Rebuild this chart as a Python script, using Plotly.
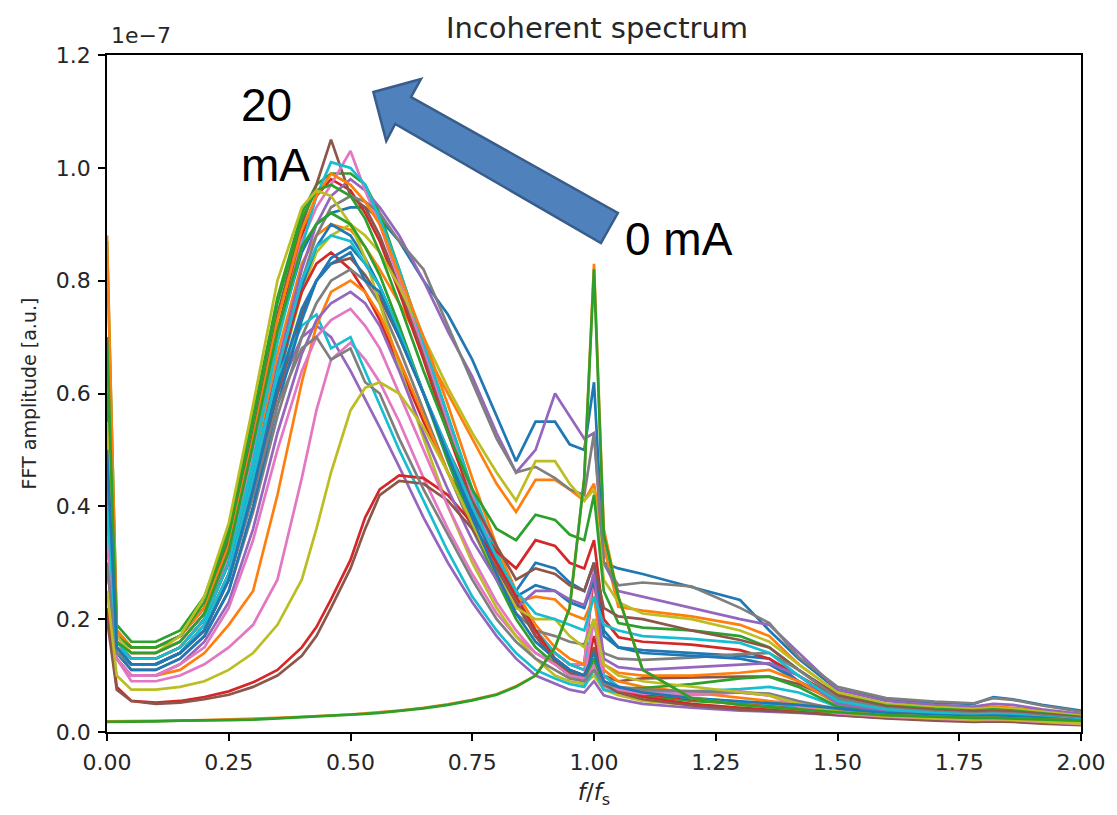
import plotly.graph_objects as go

# frequency grid f/fs
f_over_fs = [0.0, 0.02, 0.05, 0.10, 0.15, 0.20, 0.25, 0.30, 0.35, 0.40, 0.43, 0.46, 0.50, 0.53, 0.56,
             0.60, 0.65, 0.70, 0.75, 0.80, 0.84, 0.88, 0.92, 0.95, 0.98, 1.00, 1.02, 1.05, 1.10, 1.20,
             1.30, 1.36, 1.42, 1.50, 1.60, 1.70, 1.78, 1.82, 1.86, 1.92, 2.00]

# FFT amplitudes in units of 1e-7
c00 = [0.45, 0.17, 0.15, 0.15, 0.17, 0.22, 0.32, 0.50, 0.70, 0.85, 0.90, 0.92, 0.93, 0.93, 0.91, 0.87, 0.80, 0.74, 0.66, 0.56, 0.48, 0.55, 0.55, 0.51, 0.50, 0.62, 0.30, 0.29, 0.28, 0.257, 0.234, 0.18, 0.13, 0.075, 0.058, 0.052, 0.05, 0.062, 0.058, 0.048, 0.038]
c01 = [0.60, 0.16, 0.13, 0.13, 0.15, 0.20, 0.30, 0.47, 0.67, 0.83, 0.88, 0.90, 0.89, 0.86, 0.82, 0.76, 0.68, 0.60, 0.52, 0.44, 0.39, 0.447, 0.447, 0.43, 0.41, 0.44, 0.33, 0.222, 0.215, 0.205, 0.19, 0.17, 0.12, 0.07, 0.05, 0.045, 0.042, 0.045, 0.043, 0.037, 0.03]
c02 = [0.87, 0.19, 0.16, 0.16, 0.18, 0.24, 0.36, 0.56, 0.77, 0.92, 0.97, 0.99, 0.99, 0.97, 0.92, 0.82, 0.69, 0.56, 0.43, 0.31, 0.23, 0.17, 0.13, 0.11, 0.10, 0.12, 0.09, 0.075, 0.065, 0.055, 0.05, 0.047, 0.044, 0.04, 0.033, 0.03, 0.028, 0.03, 0.029, 0.026, 0.022]
c03 = [0.50, 0.17, 0.14, 0.14, 0.16, 0.21, 0.32, 0.50, 0.71, 0.88, 0.95, 0.98, 0.96, 0.92, 0.87, 0.78, 0.66, 0.53, 0.41, 0.30, 0.23, 0.17, 0.14, 0.12, 0.12, 0.28, 0.10, 0.08, 0.068, 0.058, 0.052, 0.048, 0.045, 0.04, 0.032, 0.028, 0.026, 0.027, 0.026, 0.023, 0.019]
c04 = [0.40, 0.15, 0.12, 0.12, 0.14, 0.19, 0.28, 0.45, 0.65, 0.82, 0.90, 0.95, 0.98, 0.96, 0.93, 0.88, 0.80, 0.71, 0.63, 0.53, 0.46, 0.50, 0.60, 0.56, 0.52, 0.53, 0.30, 0.25, 0.24, 0.22, 0.20, 0.19, 0.14, 0.075, 0.055, 0.048, 0.045, 0.05, 0.048, 0.04, 0.032]
c05 = [0.70, 0.18, 0.15, 0.15, 0.17, 0.22, 0.34, 0.53, 0.74, 0.90, 0.97, 1.05, 0.95, 0.93, 0.88, 0.79, 0.67, 0.54, 0.42, 0.31, 0.24, 0.18, 0.14, 0.12, 0.11, 0.14, 0.10, 0.09, 0.095, 0.097, 0.098, 0.098, 0.085, 0.055, 0.04, 0.034, 0.031, 0.032, 0.031, 0.027, 0.022]
c06 = [0.55, 0.17, 0.14, 0.14, 0.16, 0.21, 0.31, 0.49, 0.70, 0.87, 0.93, 0.97, 1.03, 0.96, 0.90, 0.80, 0.68, 0.55, 0.42, 0.31, 0.23, 0.18, 0.14, 0.12, 0.12, 0.30, 0.10, 0.08, 0.07, 0.065, 0.07, 0.065, 0.05, 0.038, 0.03, 0.027, 0.025, 0.026, 0.025, 0.022, 0.018]
c07 = [0.35, 0.15, 0.12, 0.12, 0.14, 0.19, 0.28, 0.45, 0.64, 0.80, 0.88, 0.93, 0.95, 0.94, 0.92, 0.87, 0.82, 0.72, 0.62, 0.52, 0.46, 0.47, 0.45, 0.43, 0.42, 0.53, 0.30, 0.26, 0.265, 0.258, 0.22, 0.193, 0.133, 0.08, 0.06, 0.054, 0.051, 0.06, 0.057, 0.047, 0.036]
c08 = [0.30, 0.14, 0.12, 0.12, 0.14, 0.18, 0.27, 0.43, 0.62, 0.78, 0.85, 0.88, 0.90, 0.88, 0.85, 0.79, 0.70, 0.61, 0.53, 0.46, 0.41, 0.48, 0.48, 0.44, 0.41, 0.43, 0.27, 0.23, 0.21, 0.20, 0.18, 0.16, 0.12, 0.07, 0.05, 0.044, 0.041, 0.043, 0.041, 0.036, 0.029]
c09 = [0.45, 0.16, 0.13, 0.13, 0.15, 0.20, 0.30, 0.48, 0.69, 0.86, 0.95, 1.01, 1.00, 0.97, 0.91, 0.82, 0.69, 0.56, 0.43, 0.32, 0.24, 0.18, 0.14, 0.12, 0.11, 0.20, 0.10, 0.08, 0.07, 0.06, 0.054, 0.05, 0.046, 0.04, 0.032, 0.028, 0.026, 0.027, 0.026, 0.023, 0.019]
c10 = [0.30, 0.15, 0.12, 0.12, 0.14, 0.18, 0.27, 0.43, 0.62, 0.79, 0.86, 0.90, 0.88, 0.84, 0.79, 0.71, 0.60, 0.49, 0.39, 0.30, 0.25, 0.30, 0.29, 0.265, 0.25, 0.30, 0.18, 0.15, 0.145, 0.14, 0.135, 0.13, 0.09, 0.055, 0.042, 0.036, 0.033, 0.034, 0.033, 0.029, 0.024]
c11 = [0.88, 0.18, 0.15, 0.15, 0.17, 0.22, 0.33, 0.52, 0.73, 0.89, 0.95, 0.99, 0.97, 0.94, 0.90, 0.81, 0.70, 0.58, 0.45, 0.33, 0.25, 0.19, 0.15, 0.13, 0.12, 0.15, 0.11, 0.09, 0.08, 0.07, 0.06, 0.055, 0.05, 0.043, 0.035, 0.031, 0.029, 0.03, 0.029, 0.025, 0.02]
c12 = [0.60, 0.17, 0.15, 0.15, 0.17, 0.23, 0.35, 0.55, 0.76, 0.91, 0.96, 0.97, 0.95, 0.91, 0.85, 0.76, 0.64, 0.53, 0.43, 0.36, 0.34, 0.385, 0.376, 0.35, 0.34, 0.42, 0.25, 0.193, 0.185, 0.18, 0.17, 0.15, 0.11, 0.065, 0.047, 0.041, 0.038, 0.04, 0.038, 0.033, 0.027]
c13 = [0.35, 0.15, 0.13, 0.13, 0.15, 0.20, 0.30, 0.46, 0.64, 0.78, 0.83, 0.85, 0.82, 0.78, 0.73, 0.65, 0.55, 0.46, 0.38, 0.32, 0.29, 0.34, 0.33, 0.30, 0.29, 0.34, 0.20, 0.168, 0.16, 0.155, 0.145, 0.13, 0.10, 0.06, 0.045, 0.038, 0.035, 0.036, 0.035, 0.031, 0.025]
c14 = [0.50, 0.15, 0.12, 0.12, 0.14, 0.19, 0.28, 0.45, 0.60, 0.70, 0.72, 0.70, 0.64, 0.59, 0.54, 0.47, 0.38, 0.30, 0.23, 0.17, 0.13, 0.10, 0.085, 0.075, 0.07, 0.09, 0.065, 0.058, 0.05, 0.043, 0.038, 0.036, 0.034, 0.03, 0.025, 0.022, 0.02, 0.021, 0.02, 0.017, 0.014]
c15 = [0.40, 0.14, 0.12, 0.12, 0.14, 0.18, 0.27, 0.42, 0.60, 0.74, 0.80, 0.83, 0.84, 0.81, 0.77, 0.70, 0.60, 0.50, 0.41, 0.33, 0.27, 0.29, 0.28, 0.26, 0.25, 0.30, 0.22, 0.205, 0.20, 0.18, 0.163, 0.15, 0.11, 0.065, 0.045, 0.039, 0.036, 0.037, 0.036, 0.032, 0.026]
c16 = [0.30, 0.13, 0.09, 0.09, 0.10, 0.12, 0.15, 0.19, 0.27, 0.45, 0.57, 0.66, 0.69, 0.66, 0.62, 0.55, 0.45, 0.36, 0.28, 0.21, 0.17, 0.14, 0.12, 0.10, 0.09, 0.12, 0.08, 0.075, 0.07, 0.068, 0.07, 0.065, 0.05, 0.035, 0.028, 0.024, 0.022, 0.023, 0.022, 0.019, 0.015]
c17 = [0.45, 0.14, 0.11, 0.11, 0.13, 0.17, 0.25, 0.39, 0.56, 0.70, 0.76, 0.80, 0.82, 0.80, 0.76, 0.68, 0.57, 0.46, 0.36, 0.27, 0.21, 0.18, 0.17, 0.16, 0.155, 0.20, 0.14, 0.13, 0.128, 0.132, 0.138, 0.14, 0.11, 0.06, 0.042, 0.036, 0.033, 0.034, 0.033, 0.029, 0.024]
c18 = [0.55, 0.17, 0.14, 0.14, 0.17, 0.24, 0.37, 0.58, 0.80, 0.93, 0.96, 0.95, 0.90, 0.84, 0.76, 0.65, 0.52, 0.40, 0.30, 0.22, 0.17, 0.13, 0.10, 0.09, 0.085, 0.10, 0.075, 0.065, 0.055, 0.048, 0.043, 0.04, 0.037, 0.033, 0.027, 0.024, 0.022, 0.023, 0.022, 0.019, 0.016]
c19 = [0.40, 0.15, 0.13, 0.13, 0.15, 0.20, 0.30, 0.47, 0.63, 0.72, 0.74, 0.68, 0.70, 0.64, 0.58, 0.50, 0.41, 0.32, 0.24, 0.18, 0.14, 0.11, 0.095, 0.085, 0.08, 0.11, 0.075, 0.07, 0.07, 0.072, 0.076, 0.08, 0.07, 0.045, 0.033, 0.028, 0.026, 0.026, 0.025, 0.022, 0.018]
c20 = [0.35, 0.14, 0.11, 0.11, 0.13, 0.17, 0.25, 0.40, 0.58, 0.73, 0.80, 0.84, 0.86, 0.83, 0.79, 0.71, 0.60, 0.49, 0.39, 0.30, 0.24, 0.26, 0.25, 0.23, 0.22, 0.27, 0.17, 0.15, 0.14, 0.135, 0.13, 0.12, 0.09, 0.05, 0.038, 0.033, 0.03, 0.031, 0.03, 0.027, 0.022]
c21 = [0.30, 0.13, 0.10, 0.10, 0.11, 0.14, 0.19, 0.25, 0.42, 0.62, 0.72, 0.78, 0.80, 0.78, 0.74, 0.66, 0.56, 0.46, 0.37, 0.29, 0.23, 0.24, 0.235, 0.21, 0.20, 0.24, 0.12, 0.105, 0.10, 0.10, 0.105, 0.11, 0.09, 0.05, 0.036, 0.031, 0.028, 0.029, 0.028, 0.025, 0.02]
c22 = [0.70, 0.16, 0.14, 0.14, 0.16, 0.21, 0.32, 0.51, 0.71, 0.86, 0.90, 0.92, 0.90, 0.86, 0.81, 0.72, 0.60, 0.48, 0.37, 0.27, 0.20, 0.15, 0.12, 0.10, 0.095, 0.13, 0.085, 0.078, 0.078, 0.085, 0.095, 0.098, 0.08, 0.045, 0.034, 0.03, 0.028, 0.029, 0.028, 0.025, 0.021]
c23 = [0.22, 0.08, 0.055, 0.052, 0.055, 0.062, 0.072, 0.088, 0.11, 0.15, 0.186, 0.235, 0.305, 0.38, 0.43, 0.455, 0.45, 0.42, 0.37, 0.30, 0.24, 0.18, 0.13, 0.11, 0.10, 0.17, 0.09, 0.075, 0.062, 0.05, 0.043, 0.04, 0.037, 0.032, 0.026, 0.022, 0.02, 0.021, 0.02, 0.017, 0.013]
c24 = [0.30, 0.13, 0.10, 0.10, 0.12, 0.16, 0.23, 0.36, 0.53, 0.67, 0.73, 0.76, 0.78, 0.76, 0.72, 0.64, 0.53, 0.43, 0.34, 0.27, 0.22, 0.25, 0.25, 0.235, 0.225, 0.28, 0.13, 0.115, 0.11, 0.115, 0.12, 0.122, 0.10, 0.05, 0.036, 0.031, 0.028, 0.029, 0.028, 0.025, 0.02]
c25 = [0.20, 0.075, 0.055, 0.05, 0.052, 0.058, 0.066, 0.08, 0.10, 0.135, 0.17, 0.22, 0.29, 0.36, 0.42, 0.445, 0.44, 0.41, 0.36, 0.29, 0.23, 0.17, 0.125, 0.105, 0.095, 0.15, 0.085, 0.07, 0.058, 0.047, 0.04, 0.038, 0.035, 0.03, 0.024, 0.02, 0.018, 0.019, 0.018, 0.015, 0.012]
c26 = [0.35, 0.13, 0.10, 0.10, 0.12, 0.15, 0.22, 0.34, 0.50, 0.64, 0.70, 0.73, 0.75, 0.72, 0.68, 0.60, 0.50, 0.40, 0.31, 0.23, 0.18, 0.14, 0.12, 0.10, 0.095, 0.20, 0.09, 0.075, 0.068, 0.068, 0.072, 0.065, 0.045, 0.033, 0.027, 0.023, 0.021, 0.022, 0.021, 0.018, 0.014]
c27 = [0.30, 0.14, 0.12, 0.12, 0.14, 0.18, 0.27, 0.42, 0.58, 0.68, 0.70, 0.66, 0.68, 0.62, 0.60, 0.52, 0.43, 0.35, 0.27, 0.20, 0.16, 0.13, 0.11, 0.095, 0.09, 0.11, 0.085, 0.08, 0.075, 0.072, 0.07, 0.068, 0.055, 0.04, 0.03, 0.026, 0.024, 0.025, 0.024, 0.021, 0.017]
c28 = [0.25, 0.10, 0.075, 0.075, 0.08, 0.09, 0.11, 0.14, 0.19, 0.27, 0.36, 0.46, 0.57, 0.61, 0.62, 0.60, 0.54, 0.46, 0.37, 0.28, 0.22, 0.20, 0.20, 0.17, 0.15, 0.20, 0.12, 0.10, 0.09, 0.08, 0.07, 0.065, 0.05, 0.036, 0.028, 0.024, 0.022, 0.023, 0.022, 0.019, 0.015]
c29 = [0.40, 0.15, 0.12, 0.12, 0.14, 0.19, 0.28, 0.45, 0.64, 0.80, 0.86, 0.88, 0.87, 0.83, 0.79, 0.71, 0.60, 0.50, 0.40, 0.31, 0.25, 0.21, 0.20, 0.19, 0.18, 0.24, 0.19, 0.18, 0.17, 0.165, 0.158, 0.14, 0.10, 0.055, 0.04, 0.034, 0.031, 0.032, 0.031, 0.027, 0.022]
c30 = [0.50, 0.15, 0.12, 0.12, 0.14, 0.18, 0.27, 0.43, 0.61, 0.75, 0.80, 0.83, 0.85, 0.80, 0.78, 0.70, 0.60, 0.49, 0.38, 0.28, 0.21, 0.16, 0.13, 0.11, 0.10, 0.14, 0.09, 0.08, 0.07, 0.06, 0.055, 0.052, 0.048, 0.042, 0.034, 0.03, 0.028, 0.029, 0.028, 0.025, 0.02]
c31 = [0.019, 0.019, 0.019, 0.02, 0.02, 0.021, 0.022, 0.023, 0.025, 0.027, 0.028, 0.029, 0.031, 0.033, 0.035, 0.038, 0.043, 0.049, 0.057, 0.067, 0.081, 0.10, 0.15, 0.22, 0.45, 0.83, 0.36, 0.24, 0.11, 0.06, 0.048, 0.044, 0.04, 0.035, 0.03, 0.027, 0.025, 0.025, 0.024, 0.022, 0.02]
c32_0mA = [0.018, 0.018, 0.018, 0.019, 0.02, 0.02, 0.021, 0.022, 0.024, 0.026, 0.027, 0.028, 0.03, 0.032, 0.034, 0.037, 0.042, 0.048, 0.056, 0.066, 0.08, 0.10, 0.15, 0.22, 0.45, 0.82, 0.35, 0.24, 0.11, 0.06, 0.048, 0.044, 0.04, 0.035, 0.03, 0.027, 0.025, 0.025, 0.024, 0.022, 0.02]

spectra = [c00, c01, c02, c03, c04, c05, c06, c07, c08, c09, c10, c11, c12, c13, c14, c15, c16,
           c17, c18, c19, c20, c21, c22, c23, c24, c25, c26, c27, c28, c29, c30, c31, c32_0mA]

x_ticks = [0.0, 0.25, 0.5, 0.75, 1.0, 1.25, 1.5, 1.75, 2.0]
x_tick_labels = ["0.00", "0.25", "0.50", "0.75", "1.00", "1.25", "1.50", "1.75", "2.00"]
y_ticks = [0.0, 0.2, 0.4, 0.6, 0.8, 1.0, 1.2]
y_tick_labels = ["0.0", "0.2", "0.4", "0.6", "0.8", "1.0", "1.2"]

tab10 = ['#1f77b4', '#ff7f0e', '#2ca02c', '#d62728', '#9467bd',
         '#8c564b', '#e377c2', '#7f7f7f', '#bcbd22', '#17becf']

fig = go.Figure()
for i, s in enumerate(spectra):
    fig.add_trace(go.Scatter(x=f_over_fs, y=s, mode="lines",
                             line=dict(color=tab10[i % 10], width=2.7),
                             showlegend=False, hoverinfo="skip"))

W, H = 1117, 815
L, R, T, B = 107, 30, 55, 83
pw, ph = W - L - R, H - T - B


def px(xp, yp):
    return (xp - L) / pw, (H - B - yp) / ph


# block arrow (pixel outline -> paper coords)
arrow_px = [(375, 92), (423, 79), (413, 97), (621, 213), (604, 243), (397, 124), (388, 141)]
pts = [px(a, b) for a, b in arrow_px]
path = "M " + " L ".join(f"{a:.4f},{b:.4f}" for a, b in pts) + " Z"

font_main = "DejaVu Sans, sans-serif"
fig.update_layout(
    width=W, height=H,
    margin=dict(l=L, r=R, t=T, b=B),
    paper_bgcolor="white", plot_bgcolor="white",
    font=dict(family=font_main, size=22, color="#262626"),
    title=dict(text="Incoherent spectrum", x=(L + pw / 2) / W, xanchor="center",
               y=1 - 28 / H, yanchor="middle", font=dict(size=29, color="#262626")),
    xaxis=dict(range=[0, 2], tickmode="array", tickvals=x_ticks, ticktext=x_tick_labels,
               showgrid=False, zeroline=False, showline=True, mirror=True,
               linecolor="black", linewidth=1.5, ticks="outside", ticklen=7,
               tickwidth=1.5, tickcolor="black", ticklabelstandoff=3,
               tickfont=dict(size=22),
               title=dict(text="<i>f</i>/<i>f</i><sub>s</sub>", standoff=10,
                          font=dict(size=23))),
    yaxis=dict(range=[0, 1.2], tickmode="array", tickvals=y_ticks, ticktext=y_tick_labels,
               showgrid=False, zeroline=False, showline=True, mirror=True,
               linecolor="black", linewidth=1.5, ticks="outside", ticklen=7,
               tickwidth=1.5, tickcolor="black", ticklabelstandoff=3,
               tickfont=dict(size=22),
               title=dict(text="FFT amplitude [a.u.]", standoff=14, font=dict(size=19))),
    shapes=[dict(type="path", path=path, xref="paper", yref="paper",
                 fillcolor="#4F81BD", line=dict(color="#385D8A", width=2.5), layer="above")],
    annotations=[
        dict(text="1e\u22127", xref="paper", yref="paper", x=px(109, 0)[0], y=px(0, 50)[1],
             xanchor="left", yanchor="bottom", showarrow=False,
             font=dict(size=22, family=font_main, color="#262626")),
        dict(text="20<br>mA", xref="paper", yref="paper", x=px(240, 0)[0], y=px(0, 135)[1],
             xanchor="left", yanchor="middle", align="left", showarrow=False,
             font=dict(size=46, family="Liberation Sans, Arial, sans-serif", color="black")),
        dict(text="0 mA", xref="paper", yref="paper", x=px(626, 0)[0], y=px(0, 239)[1],
             xanchor="left", yanchor="middle", showarrow=False,
             font=dict(size=46, family="Liberation Sans, Arial, sans-serif", color="black")),
    ],
)

fig.write_html("out.html")
